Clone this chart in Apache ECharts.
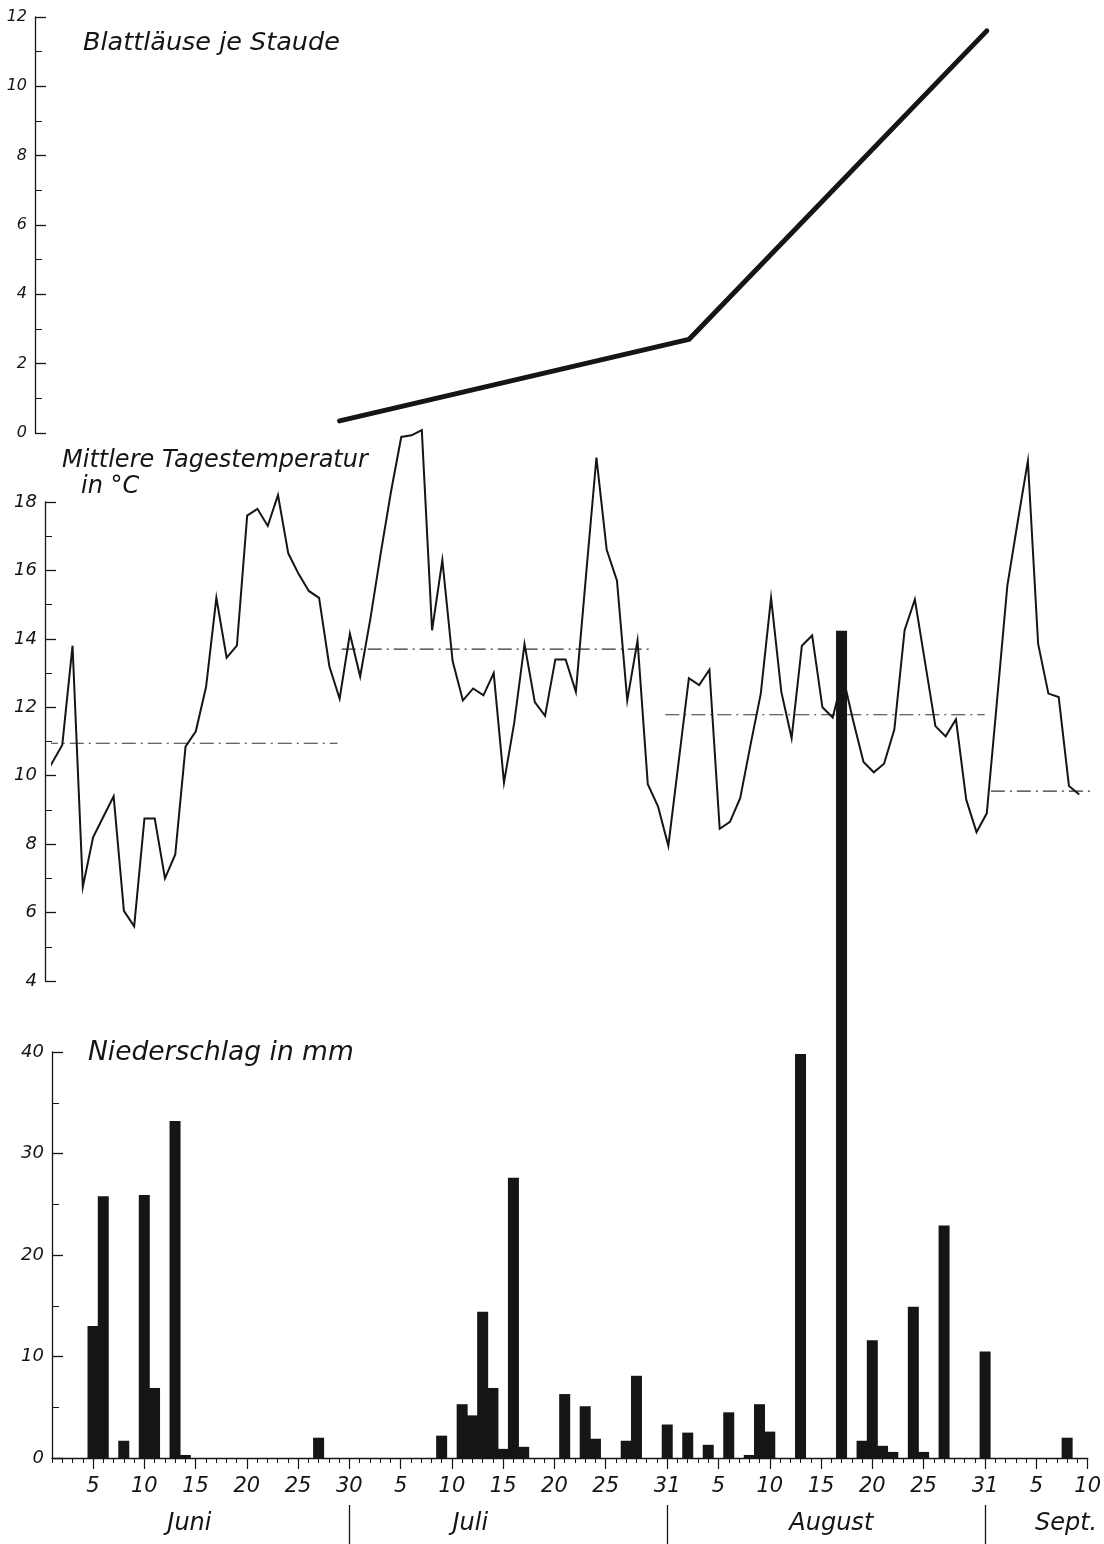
<!DOCTYPE html>
<html><head><meta charset="utf-8">
<script src="https://cdn.jsdelivr.net/npm/echarts@6/dist/echarts.min.js"></script>
<style>html,body{margin:0;padding:0;background:#fff}#c{width:1104px;height:1544px}</style>
</head><body><div id="c"></div>
<script>
// ---- Data (day index: 1 = 1 June, 31 = 1 July, 62 = 1 August, 93 = 1 September) ----
const aphidDays   = [29, 63, 92];
const aphidValues = [0.35, 2.7, 11.6];

const tempDays = [0.3, 2, 3, 4, 5, 6, 7, 8, 9, 10, 11, 12, 13, 14, 15, 16, 17, 18, 19, 20,
  21, 22, 23, 24, 25, 26, 27, 28, 29, 30, 31, 32, 33, 34, 35, 36, 37, 38, 39, 40,
  41, 42, 43, 44, 45, 46, 47, 48, 49, 50, 51, 52, 53, 54, 55, 56, 57, 58, 59, 60,
  61, 62, 63, 64, 65, 66, 67, 68, 69, 70, 71, 72, 73, 74, 75, 76, 77, 78, 79, 80,
  81, 82, 83, 84, 85, 86, 87, 88, 89, 90, 91, 92, 93, 94, 95, 96, 97, 98, 99, 100, 101];
const tempValues = [10.0, 10.9, 13.8, 6.75, 8.2, 8.8, 9.4, 6.05, 5.6, 8.75, 8.75, 7.0, 7.7, 10.85, 11.3, 12.6, 15.2, 13.45, 13.8, 17.6,
  17.8, 17.3, 18.2, 16.5, 15.9, 15.4, 15.2, 13.2, 12.25, 14.15, 12.9, 14.6, 16.5, 18.3, 19.9, 19.95, 20.1, 14.25, 16.3, 13.35,
  12.2, 12.55, 12.35, 13.0, 9.8, 11.55, 13.85, 12.15, 11.75, 13.4, 13.4, 12.45, 15.9, 19.3, 16.6, 15.7, 12.2, 13.95, 9.75, 9.1,
  7.95, 10.4, 12.85, 12.65, 13.1, 8.45, 8.65, 9.35, 10.9, 12.4, 15.2, 12.45, 11.1, 13.8, 14.1, 12.0, 11.7, 12.9, 11.6, 10.4,
  10.1, 10.35, 11.35, 14.25, 15.15, 13.3, 11.45, 11.15, 11.65, 9.3, 8.35, 8.9, 12.2, 15.55, 17.4, 19.2, 13.85, 12.4, 12.3, 9.7, 9.45];

const monthMeanStart = [0.2, 29.2, 60.7, 92.4];
const monthMeanEnd   = [28.8, 59.5, 91.8, 103.4];
const monthMeanValue = [10.95, 13.7, 11.78, 9.55];

const rainDays   = [5, 6, 8, 10, 11, 13, 14, 27,
  39, 41, 42, 43, 44, 45, 46, 47, 51, 53, 54, 57, 58, 61,
  63, 65, 67, 69, 70, 71, 74, 78, 80, 81, 82, 83, 85, 86, 88, 92,
  100];
const rainValues = [13.0, 25.8, 1.7, 25.9, 6.9, 33.2, 0.3, 2.0,
  2.2, 5.3, 4.2, 14.4, 6.9, 0.9, 27.6, 1.1, 6.3, 5.1, 1.9, 1.7, 8.1, 3.3,
  2.5, 1.3, 4.5, 0.3, 5.3, 2.6, 39.8, 81.5, 1.7, 11.6, 1.2, 0.6, 14.9, 0.6, 22.9, 10.5,
  2.0];

const dayTickValues = [5, 10, 15, 20, 25, 30, 35, 40, 45, 50, 55, 61, 66, 71, 76, 81, 86, 92, 97, 102];
const dayTickLabels = ['5','10','15','20','25','30','5','10','15','20','25','31','5','10','15','20','25','31','5','10'];
const monthNames     = ['Juni', 'Juli', 'August', 'Sept.'];
const monthLabelDays = [14.4, 41.8, 77, 99.9];
const monthEndDays   = [30, 61, 92];

// ---- Chart ----
const INK = '#151515';
const FONT = "'DejaVu Sans', 'Liberation Sans', sans-serif";
const chart = echarts.init(document.getElementById('c'), null, {renderer: 'canvas'});

const txt = (size) => ({fontFamily: FONT, fontStyle: 'italic', fontWeight: 'normal', fontSize: size, color: INK});
const axLine = {show: true, lineStyle: {color: INK, width: 1.3}};

function yAx(grid, min, max, interval, offset, fs) {
  return {
    type: 'value', gridIndex: grid, min: min, max: max, interval: interval, offset: offset,
    axisLine: axLine,
    axisTick: {show: true, inside: true, length: 11, lineStyle: {color: INK, width: 1.3}},
    minorTick: {show: true, splitNumber: 2, length: 7, lineStyle: {color: INK, width: 1}},
    splitLine: {show: false}, minorSplitLine: {show: false},
    axisLabel: Object.assign({margin: 8}, txt(fs))
  };
}
const labelMap = {};
dayTickValues.forEach((v, i) => { labelMap[v] = dayTickLabels[i]; });
const monthMap = {};
monthLabelDays.forEach((v, i) => { monthMap[v] = monthNames[i]; });

const gridL = 52, gridR = 14.5;
const hiddenX = (g) => ({type: 'value', gridIndex: g, min: 1, max: 102, show: false});

const meanSeries = monthMeanValue.map((v, i) => ({
  type: 'line', xAxisIndex: 1, yAxisIndex: 1, clip: false, symbol: 'none', silent: true, z: 1,
  data: [[monthMeanStart[i], v], [monthMeanEnd[i], v]],
  lineStyle: {color: '#333', width: 1.1, type: [14, 5, 2, 5]}
}));

const option = {
  animation: false,
  backgroundColor: '#ffffff',
  title: [
    {text: 'Blattläuse je Staude', left: 83, top: 30, padding: 0, textStyle: txt(25.5)},
    {text: 'Mittlere Tagestemperatur', left: 62, top: 449, padding: 0, textStyle: txt(24)},
    {text: 'in °C', left: 81, top: 475, padding: 0, textStyle: txt(24)},
    {text: 'Niederschlag in mm', left: 88, top: 1040, padding: 0, textStyle: txt(26.5)}
  ],
  grid: [
    {left: gridL, right: gridR, top: 17, bottom: 1111},
    {left: gridL, right: gridR, top: 502, bottom: 563},
    {left: gridL, right: gridR, top: 1052, bottom: 86}
  ],
  xAxis: [
    hiddenX(0),
    hiddenX(1),
    {type: 'value', gridIndex: 2, min: 1, max: 102, interval: 1, position: 'bottom',
      axisLine: axLine,
      axisTick: {show: true, inside: false, length: 5, lineStyle: {color: INK, width: 1}},
      axisLabel: {show: false}, splitLine: {show: false}},
    {type: 'value', gridIndex: 2, min: 1, max: 102, position: 'bottom',
      axisLine: {show: false},
      axisTick: {show: true, inside: false, length: 11, customValues: dayTickValues, lineStyle: {color: INK, width: 1.2}},
      axisLabel: Object.assign({show: true, customValues: dayTickValues, margin: 18,
        formatter: (v) => labelMap[v] || ''}, txt(21)),
      splitLine: {show: false}},
    {type: 'value', gridIndex: 2, min: 1, max: 102, position: 'bottom', offset: 47,
      axisLine: {show: false},
      axisTick: {show: true, inside: false, length: 40, customValues: monthEndDays, lineStyle: {color: INK, width: 1.3}},
      axisLabel: {show: false}, splitLine: {show: false}},
    {type: 'value', gridIndex: 2, min: 1, max: 102, position: 'bottom',
      axisLine: {show: false}, axisTick: {show: false},
      axisLabel: Object.assign({show: true, customValues: monthLabelDays, margin: 54,
        formatter: (v) => monthMap[v] || ''}, txt(24)),
      splitLine: {show: false}}
  ],
  yAxis: [
    yAx(0, 0, 12, 2, 17, 16),
    yAx(1, 4, 18, 2, 7, 18),
    yAx(2, 0, 40, 10, 0, 18)
  ],
  series: [
    {type: 'line', xAxisIndex: 0, yAxisIndex: 0, symbol: 'none', z: 3,
      data: aphidDays.map((d, i) => [d, aphidValues[i]]),
      lineStyle: {color: INK, width: 5, cap: 'round', join: 'round'}},
    {type: 'line', xAxisIndex: 1, yAxisIndex: 1, symbol: 'none', clip: false, z: 2,
      data: tempDays.map((d, i) => [d, tempValues[i]]),
      lineStyle: {color: INK, width: 2, join: 'miter'}},
    ...meanSeries,
    {type: 'bar', xAxisIndex: 2, yAxisIndex: 2, clip: false, barWidth: 11, z: 5,
      data: rainDays.map((d, i) => [d, rainValues[i]]),
      itemStyle: {color: INK}}
  ]
};
chart.setOption(option);
</script>
</body></html>
